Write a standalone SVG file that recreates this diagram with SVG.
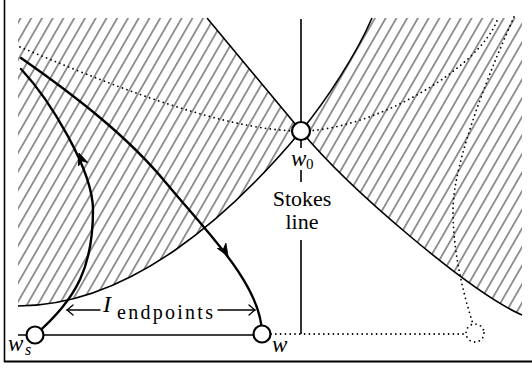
<svg xmlns="http://www.w3.org/2000/svg" width="532" height="368" viewBox="0 0 532 368">
<style>
.thin{fill:none;stroke:#000;stroke-width:1.6;stroke-linejoin:round}
.thick{fill:none;stroke:#000;stroke-width:2.4;stroke-linejoin:round;stroke-linecap:round}
.dot{fill:none;stroke:#000;stroke-width:1.8;stroke-linecap:round;stroke-dasharray:0 4.8}
.node{fill:#fff;stroke:#000;stroke-width:2.2}
.arr{fill:none;stroke:#000;stroke-width:1.3;stroke-linecap:round}
.it{font-style:italic}
</style>
<defs>
<pattern id="hatch" patternUnits="userSpaceOnUse" width="9.3" height="20" patternTransform="rotate(30)">
<line x1="8.33" y1="-1" x2="8.33" y2="21" stroke="#000" stroke-width="0.85"/>
</pattern>
<path id="ah" d="M0,0 L-12,-5 L-8.5,0 L-12,5 Z" fill="#000" stroke="#000" stroke-width="0.8" stroke-linejoin="round"/>
<path id="to" d="M-6,-5 Q-1.5,-1 0,0 Q-1.5,1 -6,5" fill="none" stroke="#000" stroke-width="1.3" stroke-linecap="round"/>
</defs>

<g id="frame">
<line x1="4.5" y1="0" x2="4.5" y2="362" stroke="#000" stroke-width="1.6"/>
<line x1="4" y1="361.5" x2="532" y2="361.5" stroke="#000" stroke-width="1.8"/>
</g>

<g id="hatched-regions">
<path d="M18,18 L207,18 L301,131 C231,215 130,306 18,306 Z" fill="url(#hatch)"/>
<path d="M372,18 L522,18 L522,315 C470,292 350,190 301,131 C326,101 357,53 372,18 Z" fill="url(#hatch)"/>
</g>

<g id="connectors">
<path id="curveA" class="thin" d="M207,18 L301,131 C350,190 470,292 522,315"/>
<path id="curveB" class="thin" d="M18,306 C130,306 231,215 301,131 C326,101 357,53 372,18"/>
<path id="dotted1" class="dot" d="M20,47 C100,80 220,131 301,131 C370,131 480,70 498,18"/>
<path id="dotted2" class="dot" d="M514,17 C494,61 453,160 453,210 C453,250 462,290 473,324"/>
<path id="stokes" class="thin" d="M301,19 V122 M301,140 V148 M301,170 V182 M301,240 V334"/>
<line id="ws-w" class="thin" x1="18" y1="335" x2="262" y2="335"/>
<line id="w-dot" class="dot" x1="271" y1="334" x2="466" y2="334"/>
<path id="path-up" class="thick" d="M35,335 C78,298 93,265 93,210 C93,170 50,100 21,69"/>
<use href="#ah" transform="translate(79,153) rotate(-110)"/>
<path id="path-down" class="thick" d="M21,58 C71,93 127,135 167,184 C205,230 262,285 262,334"/>
<use href="#ah" transform="translate(228,256) rotate(58)"/>
<g id="iarrows">
<line class="arr" x1="100" y1="310" x2="67" y2="310"/>
<use href="#to" transform="translate(67,310) rotate(180)"/>
<line class="arr" x1="218" y1="310" x2="255" y2="310"/>
<use href="#to" transform="translate(255,310)"/>
</g>
</g>

<g font-family="'Liberation Serif', 'Times New Roman', 'DejaVu Serif', serif" fill="#000">
<g id="node-w0">
<circle class="node" cx="301" cy="131" r="9"/>
<text x="291" y="166" class="it" font-size="23">w</text>
<text x="306" y="169" font-size="15">0</text>
</g>
<g id="node-ws">
<circle class="node" cx="35" cy="335" r="8.5"/>
<text x="8" y="351" class="it" font-size="23">w</text>
<text x="25" y="355" class="it" font-size="16">s</text>
</g>
<g id="node-w">
<circle class="node" cx="262" cy="334" r="8.5"/>
<text x="272" y="352" class="it" font-size="23">w</text>
</g>
<g id="node-wdot">
<circle cx="475" cy="333" r="9" class="dot"/>
</g>
<g id="label-stokes">
<text x="302" y="206" font-size="22" text-anchor="middle">Stokes</text>
<text x="302" y="229" font-size="22" text-anchor="middle">line</text>
</g>
<g id="label-iend">
<text x="103" y="312" class="it" font-size="24">I</text>
<text x="117" y="319" font-size="20" textLength="96" lengthAdjust="spacing">endpoints</text>
</g>
</g>
</svg>
